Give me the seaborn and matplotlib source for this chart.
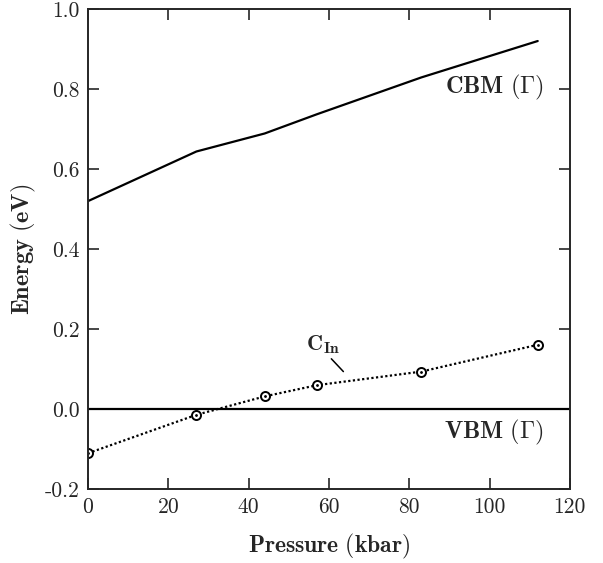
import matplotlib
matplotlib.use("Agg")
import matplotlib.pyplot as plt
import seaborn as sns
import pandas as pd

sns.set_style("ticks")
plt.rcParams["mathtext.fontset"] = "cm"
plt.rcParams["font.family"] = ["cmr10", "DejaVu Serif"]
plt.rcParams["axes.unicode_minus"] = False
plt.rcParams["axes.formatter.use_mathtext"] = True

# %% Data
pressure = [0, 27, 44, 57, 83, 112]
cbm = [0.52, 0.644, 0.689, 0.737, 0.829, 0.920]
c_in = [-0.110, -0.014, 0.032, 0.060, 0.094, 0.161]
vbm_level = 0.0

x_ticks = [0, 20, 40, 60, 80, 100, 120]
y_ticks = [-0.2, 0.0, 0.2, 0.4, 0.6, 0.8, 1.0]

df = pd.DataFrame({"Pressure": pressure, "CBM": cbm, "C_In": c_in})

# %% Plot
fig = plt.figure(figsize=(6.03, 5.63), dpi=100)
ax = fig.add_axes([0.146, 0.131, 0.799, 0.853])

sns.lineplot(data=df, x="Pressure", y="CBM", ax=ax, color="black", lw=1.6)
sns.lineplot(data=df, x="Pressure", y="C_In", ax=ax, color="black", lw=1.6,
             linestyle=(0, (1, 1.1)), marker="o", markersize=6.5,
             markerfacecolor="white", markeredgecolor="black", markeredgewidth=1.4)
ax.plot(df["Pressure"], df["C_In"], ls="none", marker=".", ms=2, color="black")
ax.axhline(vbm_level, color="black", lw=1.6)

ax.set_xlim(0, 120)
ax.set_ylim(-0.2, 1.0)
ax.set_xticks(x_ticks)
ax.set_xticklabels([str(t) for t in x_ticks])
ax.set_yticks(y_ticks)
ax.set_yticklabels([f"{t:.1f}" for t in y_ticks])
ax.tick_params(direction="in", length=8, width=1.2, top=True, right=True,
               labelsize=15.5, pad=6)
for s in ax.spines.values():
    s.set_linewidth(1.4)

ax.set_xlabel(r"$\mathbf{Pressure\ (kbar)}$", fontsize=17, labelpad=11)
ax.set_ylabel(r"$\mathbf{Energy\ (eV)}$", fontsize=17.5, labelpad=5)

ax.text(113.5, 0.803, r"$\mathbf{CBM\ (\Gamma)}$", ha="right", va="center", fontsize=17.5)
ax.text(113.5, -0.057, r"$\mathbf{VBM\ (\Gamma)}$", ha="right", va="center", fontsize=17.5)
ax.text(58.5, 0.162, r"$\mathbf{C_{In}}$", ha="center", va="center", fontsize=16)
ax.annotate("", xy=(63.6, 0.094), xytext=(60.6, 0.126),
            arrowprops=dict(arrowstyle="-", color="black", lw=1.1,
                            shrinkA=0, shrinkB=0))

fig.savefig("out.png", dpi=100)
